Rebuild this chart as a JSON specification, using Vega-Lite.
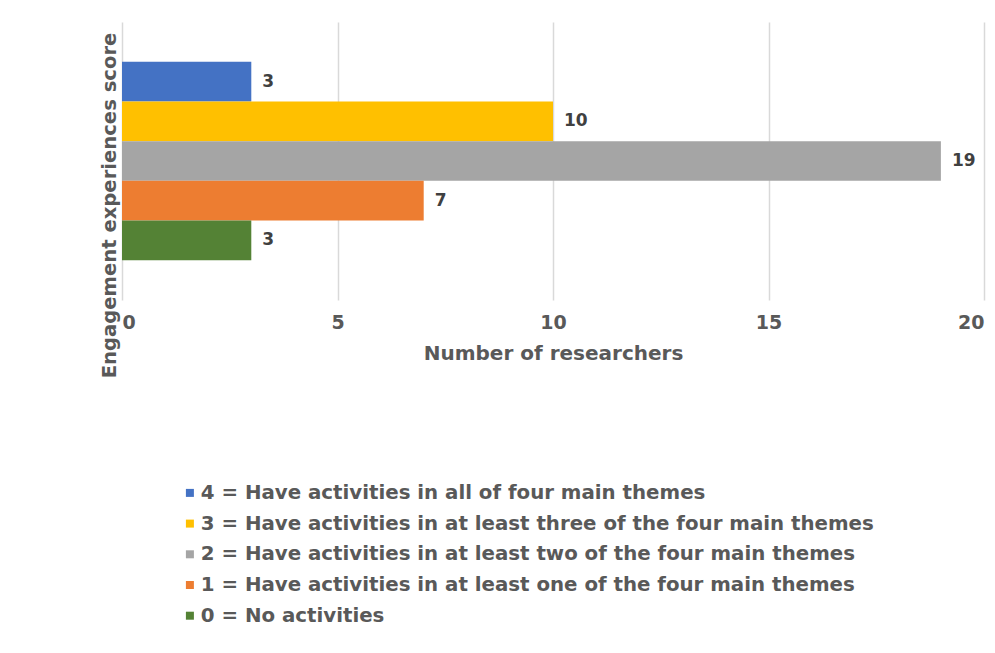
{
  "$schema": "https://vega.github.io/schema/vega-lite/v6.json",
  "width": 862,
  "height": 278,
  "autosize": {"type": "none"},
  "padding": {"left": 122, "top": 22, "right": 11, "bottom": 353},
  "background": "white",
  "config": {
    "view": {"stroke": null},
    "font": "DejaVu Sans"
  },
  "data": {
    "values": [
      {"score": 4, "researchers": 3, "category": "4 = Have activities in all of four main themes"},
      {"score": 3, "researchers": 10, "category": "3 = Have activities in at least three of the four main themes"},
      {"score": 2, "researchers": 19, "category": "2 = Have activities in at least two of the four main themes"},
      {"score": 1, "researchers": 7, "category": "1 = Have activities in at least one of the four main themes"},
      {"score": 0, "researchers": 3, "category": "0 = No activities"}
    ]
  },
  "encoding": {
    "y": {
      "field": "score",
      "type": "ordinal",
      "sort": "descending",
      "scale": {"paddingInner": 0, "paddingOuter": 1},
      "axis": {
        "title": "Engagement experiences score",
        "labels": false,
        "ticks": false,
        "domain": false,
        "titleFontSize": 19.6,
        "titleFontWeight": "bold",
        "titleColor": "#595959",
        "titleX": -7,
        "titleY": 183,
        "titleAngle": -90,
        "titleAlign": "center",
        "titleBaseline": "alphabetic"
      }
    },
    "x": {
      "field": "researchers",
      "type": "quantitative",
      "scale": {"domain": [0, 20]},
      "axis": {
        "title": "Number of researchers",
        "values": [0, 5, 10, 15, 20],
        "domain": false,
        "ticks": false,
        "grid": true,
        "gridColor": "#d9d9d9",
        "gridWidth": 1.5,
        "labelFontSize": 19,
        "labelFontWeight": "bold",
        "labelColor": "#595959",
        "labelPadding": 13,
        "titleFontSize": 20,
        "titleFontWeight": "bold",
        "titleColor": "#595959",
        "titlePadding": 11
      }
    }
  },
  "layer": [
    {
      "mark": {"type": "bar"},
      "encoding": {
        "color": {
          "field": "category",
          "type": "nominal",
          "scale": {
            "domain": [
              "4 = Have activities in all of four main themes",
              "3 = Have activities in at least three of the four main themes",
              "2 = Have activities in at least two of the four main themes",
              "1 = Have activities in at least one of the four main themes",
              "0 = No activities"
            ],
            "range": ["#4472C4", "#FFC000", "#A5A5A5", "#ED7D31", "#548235"]
          },
          "legend": {
            "title": null,
            "orient": "none",
            "legendX": 58,
            "legendY": 461,
            "symbolType": "square",
            "symbolSize": 64,
            "symbolStrokeWidth": 0,
            "labelFontSize": 19.8,
            "labelFontWeight": "bold",
            "labelColor": "#595959",
            "labelOffset": 1,
            "rowPadding": 9.7,
            "labelLimit": 800
          }
        }
      }
    },
    {
      "mark": {"type": "text", "align": "left", "dx": 11, "fontSize": 17, "fontWeight": "bold", "color": "#404040"},
      "encoding": {
        "text": {"field": "researchers", "type": "quantitative"}
      }
    }
  ]
}
